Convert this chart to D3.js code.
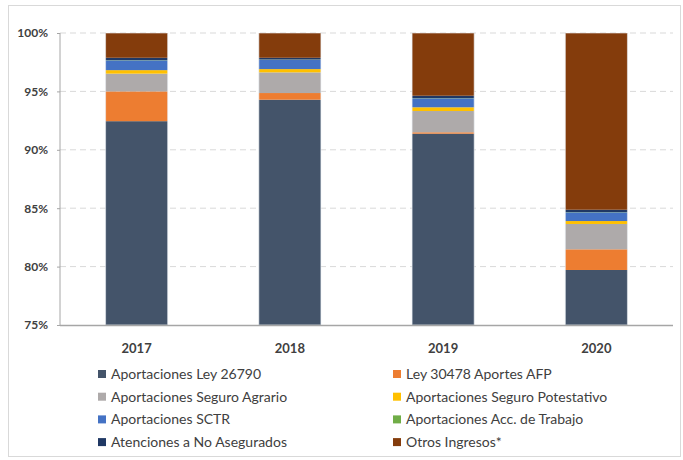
<!DOCTYPE html>
<html>
<head>
<meta charset="utf-8">
<script src="https://cdn.jsdelivr.net/npm/d3@7"></script>
<style>
  body { margin: 0; background: white; }
  text { font-family: Lato, "Open Sans", sans-serif; }
</style>
</head>
<body>
<div id="chart-area"></div>
<script>
const years = ["2017", "2018", "2019", "2020"]

const seriesNames = [
    "Aportaciones Ley 26790",
    "Ley 30478 Aportes AFP",
    "Aportaciones Seguro Agrario",
    "Aportaciones Seguro Potestativo",
    "Aportaciones SCTR",
    "Aportaciones Acc. de Trabajo",
    "Atenciones a No Asegurados",
    "Otros Ingresos*"
]

const seriesColors = ["#44546A", "#ED7D31", "#AEAAAA", "#FFC000", "#4472C4", "#70AD47", "#203864", "#843C0C"]

// shares in %, one value per year
const ley26790     = [92.45, 94.29, 91.38, 79.71]
const ley30478     = [2.55, 0.57, 0.12, 1.77]
const seguroAgr    = [1.52, 1.77, 1.82, 2.17]
const seguroPot    = [0.30, 0.28, 0.32, 0.25]
const sctr         = [0.84, 0.80, 0.77, 0.75]
const accTrabajo   = [0.02, 0.02, 0.02, 0.02]
const noAsegurados = [0.20, 0.15, 0.20, 0.20]
const otros        = [2.12, 2.12, 5.37, 15.13]

const yTicks = [75, 80, 85, 90, 95, 100]

const allSeries = [ley26790, ley30478, seguroAgr, seguroPot, sctr, accTrabajo, noAsegurados, otros]

const W = 683, H = 460
const svg = d3.select("#chart-area").append("svg")
    .attr("width", W)
    .attr("height", H)

// chart frame
svg.append("rect")
    .attr("x", 8.5).attr("y", 5.5)
    .attr("width", 672).attr("height", 451)
    .attr("fill", "white")
    .attr("stroke", "#d9d9d9")

const x = d3.scaleBand()
    .domain(years)
    .range([60, 673])
    .paddingInner(0.595)
    .paddingOuter(0.2975)

const y = d3.scaleLinear()
    .domain([75, 100])
    .range([325, 33])

// gridlines
svg.append("g")
    .selectAll("line")
    .data(yTicks.filter(d => d > 75))
    .join("line")
    .attr("x1", 60).attr("x2", 673)
    .attr("y1", d => y(d)).attr("y2", d => y(d))
    .attr("stroke", "#d9d9d9")
    .attr("stroke-width", 1)
    .attr("stroke-dasharray", "6,4")

// stacked data
const rows = years.map((yr, i) => {
    const r = {year: yr}
    seriesNames.forEach((s, j) => { r[s] = allSeries[j][i] })
    return r
})
const stacked = d3.stack().keys(seriesNames)(rows)

const color = d3.scaleOrdinal().domain(seriesNames).range(seriesColors)

svg.append("clipPath").attr("id", "plot")
    .append("rect").attr("x", 60).attr("y", y(100)).attr("width", 613).attr("height", y(75) - y(100))

const barsG = svg.append("g").attr("clip-path", "url(#plot)")
barsG.selectAll("g")
    .data(stacked)
    .join("g")
    .attr("fill", d => color(d.key))
    .selectAll("rect")
    .data(d => d)
    .join("rect")
    .attr("x", d => x(d.data.year))
    .attr("width", x.bandwidth())
    .attr("y", d => y(Math.min(d[1], 100)))
    .attr("height", d => Math.max(0, y(d[0]) - y(Math.min(d[1], 100))))

// thin light outline of bars
barsG.selectAll("rect.outline")
    .data(years)
    .join("rect")
    .attr("class", "outline")
    .attr("x", d => x(d))
    .attr("width", x.bandwidth())
    .attr("y", y(100))
    .attr("height", y(75) - y(100))
    .attr("fill", "none")
    .attr("stroke", "#e8ecf2")
    .attr("stroke-width", 1)
    .attr("opacity", 0.6)

// y axis
const yAxis = d3.axisLeft(y)
    .tickValues(yTicks)
    .tickSize(3)
    .tickFormat(d => d + "%")
const yg = svg.append("g")
    .attr("transform", "translate(60,0)")
    .call(yAxis)
yg.select(".domain").attr("stroke", "#a6a6a6").attr("d", `M0,${y(100)}V${y(75)}`)
yg.selectAll(".tick line").attr("stroke", "#a6a6a6")
yg.selectAll(".tick text")
    .attr("x", -12)
    .attr("font-size", "12px")
    .attr("font-family", "Lato, sans-serif")
    .attr("fill", "#404040")
    .attr("font-weight", "bold")

// baseline
svg.append("line")
    .attr("x1", 60).attr("x2", 673)
    .attr("y1", y(75) + 0.5).attr("y2", y(75) + 0.5)
    .attr("stroke", "#a6a6a6")
    .attr("stroke-width", 1.5)

// x labels
svg.append("g")
    .selectAll("text")
    .data(years)
    .join("text")
    .attr("x", d => x(d) + x.bandwidth() / 2)
    .attr("y", 353)
    .attr("text-anchor", "middle")
    .attr("font-size", "13px")
    .attr("font-weight", "bold")
    .attr("fill", "#404040")
    .text(d => d)

// legend
const legend = svg.append("g")
    .selectAll("g")
    .data(seriesNames)
    .join("g")
    .attr("transform", (d, i) => `translate(${i % 2 === 0 ? 98 : 393}, ${374 + Math.floor(i / 2) * 22.7})`)

legend.append("rect")
    .attr("x", 0).attr("y", -4)
    .attr("width", 8).attr("height", 8)
    .attr("fill", d => color(d))

legend.append("text")
    .attr("x", 13)
    .attr("y", 0)
    .attr("dy", "0.35em")
    .attr("font-size", "14px")
    .attr("fill", "#404040")
    .text(d => d)
</script>
</body>
</html>
